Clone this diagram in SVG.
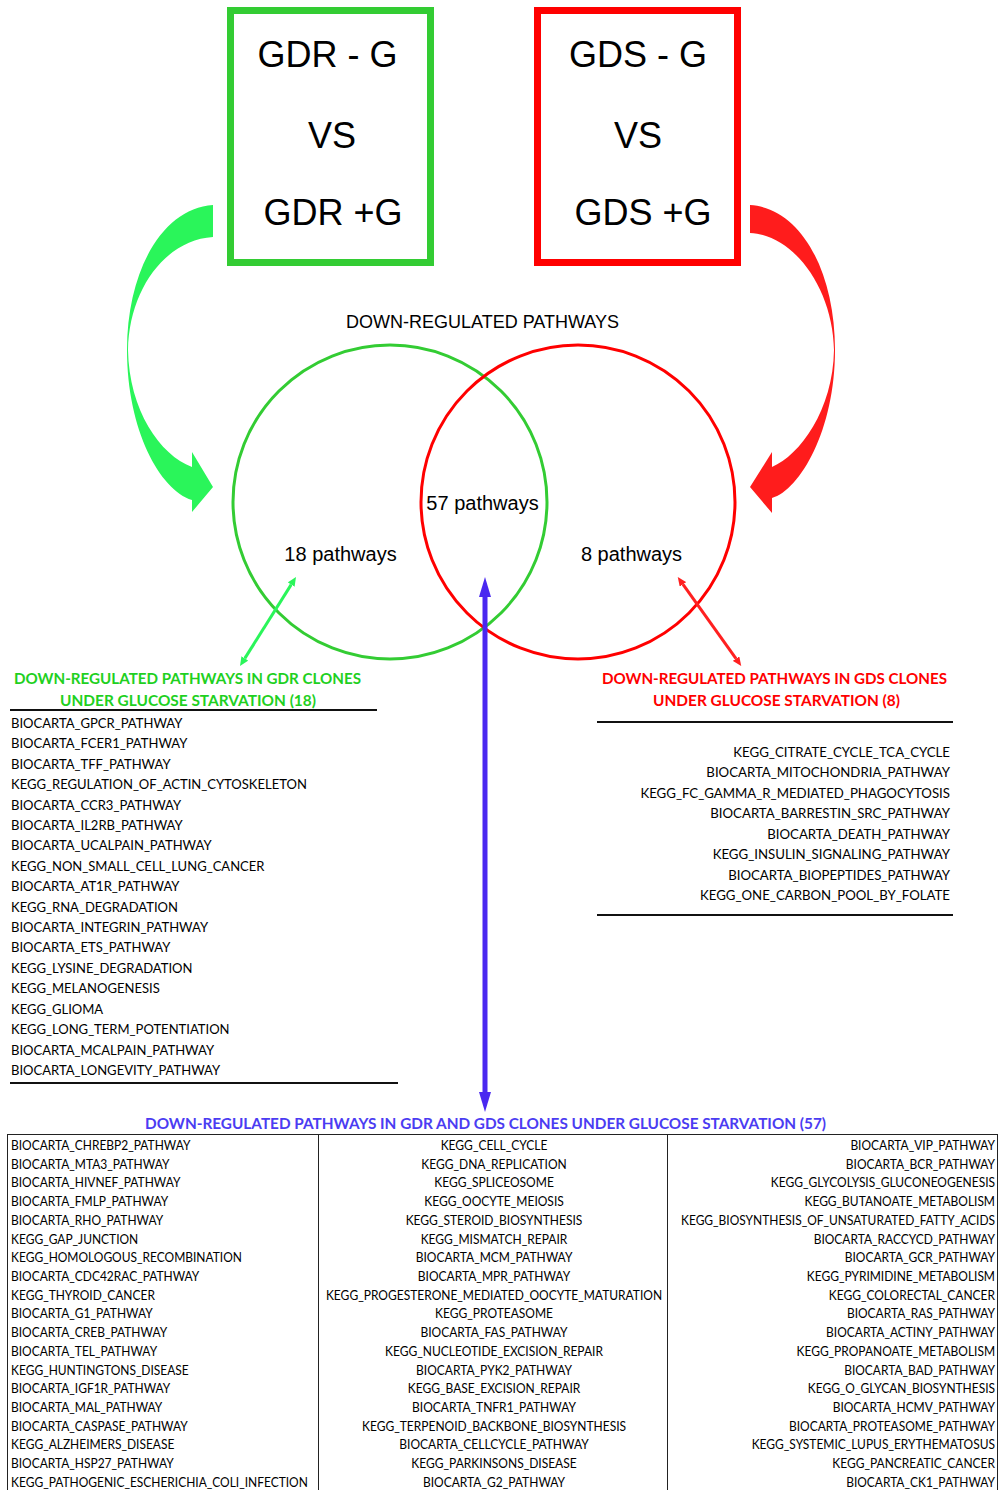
<svg xmlns="http://www.w3.org/2000/svg" width="999" height="1490" viewBox="0 0 999 1490">
<style>
.bt{font-family:"Liberation Sans",Arial,sans-serif;font-size:36px;fill:#000;text-anchor:middle}
.vl{font-family:"Liberation Sans",Arial,sans-serif;font-size:20px;fill:#000;text-anchor:middle}
.ttl{font-family:"Liberation Sans",Arial,sans-serif;font-size:18px;fill:#000;text-anchor:middle}
.hd{font-family:Lato,"Open Sans",sans-serif;font-weight:bold;font-size:16px;text-anchor:middle}
.li{font-family:Lato,"Open Sans",sans-serif;font-size:14px;fill:#000}
.tb{font-family:Lato,"Open Sans",sans-serif;font-size:12.5px;fill:#000}
.rule{stroke:#111;stroke-width:2;fill:none}
.grid{stroke:#222;stroke-width:1;fill:none}
</style>
<defs>
<marker id="mg" markerUnits="userSpaceOnUse" markerWidth="9" markerHeight="8" refX="0" refY="4" orient="auto-start-reverse" viewBox="0 0 9 8"><path d="M0,0 L9,4 L0,8 Z" fill="#2af55a"/></marker>
<marker id="mr" markerUnits="userSpaceOnUse" markerWidth="9" markerHeight="8" refX="0" refY="4" orient="auto-start-reverse" viewBox="0 0 9 8"><path d="M0,0 L9,4 L0,8 Z" fill="#ff2020"/></marker>
<marker id="mb" markerUnits="userSpaceOnUse" markerWidth="20" markerHeight="12" refX="0" refY="6" orient="auto-start-reverse" viewBox="0 0 20 12"><path d="M0,0 L20,6 L0,12 Z" fill="#4a28f0"/></marker>
</defs>

<g id="box-gdr">
<rect x="230.5" y="10.5" width="200" height="252" fill="#fff" stroke="#33cc33" stroke-width="7"/>
<text class="bt" x="327.5" y="67">GDR - G</text>
<text class="bt" x="332" y="148">VS</text>
<text class="bt" x="333" y="225">GDR +G</text>
</g>
<g id="box-gds">
<rect x="537.5" y="10.5" width="200" height="252" fill="#fff" stroke="#ff0000" stroke-width="7"/>
<text class="bt" x="638" y="67">GDS - G</text>
<text class="bt" x="638" y="148">VS</text>
<text class="bt" x="643" y="225">GDS +G</text>
</g>

<g id="venn-title"><text class="ttl" x="482.5" y="328">DOWN-REGULATED PATHWAYS</text></g>

<g id="venn-gdr"><circle cx="390" cy="502" r="157" fill="none" stroke="#33cc33" stroke-width="3"/></g>
<g id="venn-gds"><circle cx="578" cy="502" r="157" fill="none" stroke="#ff0000" stroke-width="3"/></g>
<g id="venn-labels">
<text class="vl" x="340.5" y="561">18 pathways</text>
<text class="vl" x="482.5" y="510">57 pathways</text>
<text class="vl" x="631.5" y="561">8 pathways</text>
</g>

<g id="connectors">
<path d="M213,205 C163,208 127,270 127,350 C127,430 160,490 192,500 L192,512 L213,487 L192,452 L192,467 C160,455 129,410 128,350 C129,290 165,240 213,237 Z" fill="#2af55a"/>
<path d="M750,205 C800,208 835,270 835,350 C835,430 800,490 772,498 L772,513 L750,487 L772,452 L772,467 C800,455 833,410 834,350 C833,290 795,235 750,233 Z" fill="#ff1c1c"/>
<line x1="244.8" y1="658.4" x2="291.2" y2="584.6" stroke="#2af55a" stroke-width="3" marker-start="url(#mg)" marker-end="url(#mg)"/>
<line x1="736" y1="658.6" x2="683" y2="584.4" stroke="#ff2020" stroke-width="3" marker-start="url(#mr)" marker-end="url(#mr)"/>
<line x1="485" y1="1092" x2="485" y2="597" stroke="#4a28f0" stroke-width="5" marker-start="url(#mb)" marker-end="url(#mb)"/>
</g>

<g id="list-gdr">
<text class="hd" fill="#1fd01f" x="187.5" y="684" textLength="347" lengthAdjust="spacingAndGlyphs">DOWN-REGULATED PATHWAYS IN GDR CLONES</text>
<text class="hd" fill="#1fd01f" x="188" y="706" textLength="256" lengthAdjust="spacingAndGlyphs">UNDER GLUCOSE STARVATION (18)</text>
<line class="rule" x1="10" y1="710" x2="377" y2="710"/>
<g transform="translate(11,0) scale(0.932,1)">
<text class="li" x="0" y="728">BIOCARTA_GPCR_PATHWAY</text>
<text class="li" x="0" y="748.4">BIOCARTA_FCER1_PATHWAY</text>
<text class="li" x="0" y="768.8">BIOCARTA_TFF_PATHWAY</text>
<text class="li" x="0" y="789.2">KEGG_REGULATION_OF_ACTIN_CYTOSKELETON</text>
<text class="li" x="0" y="809.6">BIOCARTA_CCR3_PATHWAY</text>
<text class="li" x="0" y="830">BIOCARTA_IL2RB_PATHWAY</text>
<text class="li" x="0" y="850.5">BIOCARTA_UCALPAIN_PATHWAY</text>
<text class="li" x="0" y="870.9">KEGG_NON_SMALL_CELL_LUNG_CANCER</text>
<text class="li" x="0" y="891.3">BIOCARTA_AT1R_PATHWAY</text>
<text class="li" x="0" y="911.7">KEGG_RNA_DEGRADATION</text>
<text class="li" x="0" y="932.1">BIOCARTA_INTEGRIN_PATHWAY</text>
<text class="li" x="0" y="952.5">BIOCARTA_ETS_PATHWAY</text>
<text class="li" x="0" y="972.9">KEGG_LYSINE_DEGRADATION</text>
<text class="li" x="0" y="993.3">KEGG_MELANOGENESIS</text>
<text class="li" x="0" y="1013.7">KEGG_GLIOMA</text>
<text class="li" x="0" y="1034.1">KEGG_LONG_TERM_POTENTIATION</text>
<text class="li" x="0" y="1054.6">BIOCARTA_MCALPAIN_PATHWAY</text>
<text class="li" x="0" y="1075">BIOCARTA_LONGEVITY_PATHWAY</text>
</g>
<line class="rule" x1="10" y1="1083" x2="398" y2="1083"/>
</g>

<g id="list-gds">
<text class="hd" fill="#ff0000" x="774.5" y="684" textLength="345" lengthAdjust="spacingAndGlyphs">DOWN-REGULATED PATHWAYS IN GDS CLONES</text>
<text class="hd" fill="#ff0000" x="776.5" y="706" textLength="247" lengthAdjust="spacingAndGlyphs">UNDER GLUCOSE STARVATION (8)</text>
<line class="rule" x1="597" y1="722" x2="953" y2="722" stroke="#555"/>
<g text-anchor="end" transform="translate(950,0) scale(0.945,1)">
<text class="li" x="0" y="757">KEGG_CITRATE_CYCLE_TCA_CYCLE</text>
<text class="li" x="0" y="777.4">BIOCARTA_MITOCHONDRIA_PATHWAY</text>
<text class="li" x="0" y="797.9">KEGG_FC_GAMMA_R_MEDIATED_PHAGOCYTOSIS</text>
<text class="li" x="0" y="818.3">BIOCARTA_BARRESTIN_SRC_PATHWAY</text>
<text class="li" x="0" y="838.7">BIOCARTA_DEATH_PATHWAY</text>
<text class="li" x="0" y="859.1">KEGG_INSULIN_SIGNALING_PATHWAY</text>
<text class="li" x="0" y="879.6">BIOCARTA_BIOPEPTIDES_PATHWAY</text>
<text class="li" x="0" y="900">KEGG_ONE_CARBON_POOL_BY_FOLATE</text>
</g>
<line class="rule" x1="597" y1="915" x2="953" y2="915"/>
</g>

<g id="table-common">
<text class="hd" fill="#4b3cf2" x="485.5" y="1129" textLength="681" lengthAdjust="spacingAndGlyphs">DOWN-REGULATED PATHWAYS IN GDR AND GDS CLONES UNDER GLUCOSE STARVATION (57)</text>
<line class="grid" x1="7" y1="1134.5" x2="998" y2="1134.5"/>
<line class="grid" x1="7.5" y1="1134" x2="7.5" y2="1490"/>
<line class="grid" x1="318.5" y1="1134" x2="318.5" y2="1490"/>
<line class="grid" x1="667.5" y1="1134" x2="667.5" y2="1490"/>
<line class="grid" x1="997.5" y1="1134" x2="997.5" y2="1490"/>
<g transform="translate(11,0) scale(0.958,1)">
<text class="tb" x="0" y="1150">BIOCARTA_CHREBP2_PATHWAY</text>
<text class="tb" x="0" y="1168.7">BIOCARTA_MTA3_PATHWAY</text>
<text class="tb" x="0" y="1187.4">BIOCARTA_HIVNEF_PATHWAY</text>
<text class="tb" x="0" y="1206.2">BIOCARTA_FMLP_PATHWAY</text>
<text class="tb" x="0" y="1224.9">BIOCARTA_RHO_PATHWAY</text>
<text class="tb" x="0" y="1243.6">KEGG_GAP_JUNCTION</text>
<text class="tb" x="0" y="1262.3">KEGG_HOMOLOGOUS_RECOMBINATION</text>
<text class="tb" x="0" y="1281">BIOCARTA_CDC42RAC_PATHWAY</text>
<text class="tb" x="0" y="1299.8">KEGG_THYROID_CANCER</text>
<text class="tb" x="0" y="1318.5">BIOCARTA_G1_PATHWAY</text>
<text class="tb" x="0" y="1337.2">BIOCARTA_CREB_PATHWAY</text>
<text class="tb" x="0" y="1355.9">BIOCARTA_TEL_PATHWAY</text>
<text class="tb" x="0" y="1374.6">KEGG_HUNTINGTONS_DISEASE</text>
<text class="tb" x="0" y="1393.4">BIOCARTA_IGF1R_PATHWAY</text>
<text class="tb" x="0" y="1412.1">BIOCARTA_MAL_PATHWAY</text>
<text class="tb" x="0" y="1430.8">BIOCARTA_CASPASE_PATHWAY</text>
<text class="tb" x="0" y="1449.5">KEGG_ALZHEIMERS_DISEASE</text>
<text class="tb" x="0" y="1468.2">BIOCARTA_HSP27_PATHWAY</text>
<text class="tb" x="0" y="1487">KEGG_PATHOGENIC_ESCHERICHIA_COLI_INFECTION</text>
</g>
<g text-anchor="middle" transform="translate(494,0) scale(0.962,1)">
<text class="tb" x="0" y="1150">KEGG_CELL_CYCLE</text>
<text class="tb" x="0" y="1168.7">KEGG_DNA_REPLICATION</text>
<text class="tb" x="0" y="1187.4">KEGG_SPLICEOSOME</text>
<text class="tb" x="0" y="1206.2">KEGG_OOCYTE_MEIOSIS</text>
<text class="tb" x="0" y="1224.9">KEGG_STEROID_BIOSYNTHESIS</text>
<text class="tb" x="0" y="1243.6">KEGG_MISMATCH_REPAIR</text>
<text class="tb" x="0" y="1262.3">BIOCARTA_MCM_PATHWAY</text>
<text class="tb" x="0" y="1281">BIOCARTA_MPR_PATHWAY</text>
<text class="tb" x="0" y="1299.8">KEGG_PROGESTERONE_MEDIATED_OOCYTE_MATURATION</text>
<text class="tb" x="0" y="1318.5">KEGG_PROTEASOME</text>
<text class="tb" x="0" y="1337.2">BIOCARTA_FAS_PATHWAY</text>
<text class="tb" x="0" y="1355.9">KEGG_NUCLEOTIDE_EXCISION_REPAIR</text>
<text class="tb" x="0" y="1374.6">BIOCARTA_PYK2_PATHWAY</text>
<text class="tb" x="0" y="1393.4">KEGG_BASE_EXCISION_REPAIR</text>
<text class="tb" x="0" y="1412.1">BIOCARTA_TNFR1_PATHWAY</text>
<text class="tb" x="0" y="1430.8">KEGG_TERPENOID_BACKBONE_BIOSYNTHESIS</text>
<text class="tb" x="0" y="1449.5">BIOCARTA_CELLCYCLE_PATHWAY</text>
<text class="tb" x="0" y="1468.2">KEGG_PARKINSONS_DISEASE</text>
<text class="tb" x="0" y="1487">BIOCARTA_G2_PATHWAY</text>
</g>
<g text-anchor="end" transform="translate(995,0) scale(0.958,1)">
<text class="tb" x="0" y="1150">BIOCARTA_VIP_PATHWAY</text>
<text class="tb" x="0" y="1168.7">BIOCARTA_BCR_PATHWAY</text>
<text class="tb" x="0" y="1187.4">KEGG_GLYCOLYSIS_GLUCONEOGENESIS</text>
<text class="tb" x="0" y="1206.2">KEGG_BUTANOATE_METABOLISM</text>
<text class="tb" x="0" y="1224.9">KEGG_BIOSYNTHESIS_OF_UNSATURATED_FATTY_ACIDS</text>
<text class="tb" x="0" y="1243.6">BIOCARTA_RACCYCD_PATHWAY</text>
<text class="tb" x="0" y="1262.3">BIOCARTA_GCR_PATHWAY</text>
<text class="tb" x="0" y="1281">KEGG_PYRIMIDINE_METABOLISM</text>
<text class="tb" x="0" y="1299.8">KEGG_COLORECTAL_CANCER</text>
<text class="tb" x="0" y="1318.5">BIOCARTA_RAS_PATHWAY</text>
<text class="tb" x="0" y="1337.2">BIOCARTA_ACTINY_PATHWAY</text>
<text class="tb" x="0" y="1355.9">KEGG_PROPANOATE_METABOLISM</text>
<text class="tb" x="0" y="1374.6">BIOCARTA_BAD_PATHWAY</text>
<text class="tb" x="0" y="1393.4">KEGG_O_GLYCAN_BIOSYNTHESIS</text>
<text class="tb" x="0" y="1412.1">BIOCARTA_HCMV_PATHWAY</text>
<text class="tb" x="0" y="1430.8">BIOCARTA_PROTEASOME_PATHWAY</text>
<text class="tb" x="0" y="1449.5">KEGG_SYSTEMIC_LUPUS_ERYTHEMATOSUS</text>
<text class="tb" x="0" y="1468.2">KEGG_PANCREATIC_CANCER</text>
<text class="tb" x="0" y="1487">BIOCARTA_CK1_PATHWAY</text>
</g>
</g>
</svg>
